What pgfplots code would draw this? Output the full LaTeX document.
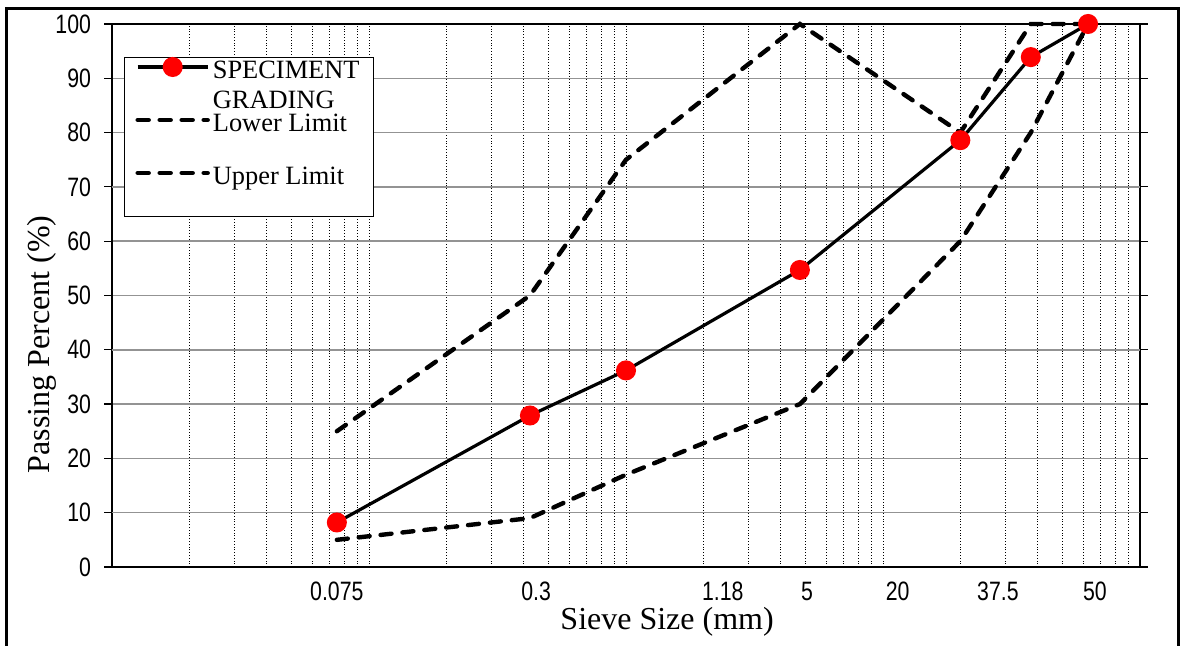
\documentclass[border=0pt]{standalone}
\usepackage{fontspec}
\setmainfont{Liberation Serif}
\newfontfamily\narrowsans[FakeStretch=0.8]{Liberation Sans}
\usepackage{pgfplots}
\pgfplotsset{compat=1.18}
\usetikzlibrary{calc}
\begin{document}
\begin{tikzpicture}
\begin{axis}[
  name=ax,
  scale only axis,
  width=514pt, height=271.5pt,
  xmode=log,
  xmin=0.01, xmax=100,
  ymin=0, ymax=100,
  clip=false,
  xtick={0.01,0.1,1,10,100},
  xticklabels={},
  ytick={0,10,...,100},
  extra x ticks={0.075,0.447,2.38,5.06,11.4,28.0,66.8},
  extra x tick labels={0.075,0.3,1.18,5,20,37.5,50},
  extra x tick style={grid=none, major tick length=0pt},
  extra y ticks={10,40,70},
  extra y tick labels={},
  extra y tick style={major grid style={black, line width=0.5pt}, tick style={draw=none}},
  xtick style={draw=none},
  minor tick length=0pt,
  tick align=outside,
  major tick length=4pt,
  ytick style={black, line width=0.6pt},
  xmajorgrids, xminorgrids, ymajorgrids,
  major x grid style={densely dotted, black, line width=0.45pt},
  minor x grid style={densely dotted, black, line width=0.45pt},
  major y grid style={gray!85, line width=0.75pt},
  axis line style={black, line width=1pt},
  /pgf/number format/assume math mode=true,
  ticklabel style={font=\narrowsans\fontsize{13.3}{14}\selectfont},
  yticklabel style={xshift=-3pt},
  xticklabel style={yshift=-4pt},
  xlabel={Sieve Size (mm)},
  ylabel={Passing Percent (\%)},
  label style={font=\fontsize{16}{18}\selectfont},
  xlabel style={at={(axis description cs:0.54,0)}, anchor=base, yshift=-31.5pt},
  ylabel style={at={(axis description cs:-0.068,0.41)}, anchor=center},
  legend style={at={(axis description cs:0,1)}, anchor=north west, xshift=6pt, yshift=-16.5pt,
    draw=black, line width=0.5pt, inner xsep=5.5pt, inner ysep=0pt, row sep=0pt,
    font=\fontsize{13.2}{15}\selectfont,
    nodes={text height=10.5pt, text depth=16pt, inner xsep=1.5pt, inner ysep=0pt}},
  legend cell align=left,
  legend image code/.code={\draw[yshift=8.5pt,mark repeat=2,mark phase=2,#1] plot coordinates {(0pt,0pt) (17.5pt,0pt) (35pt,0pt)};},
]
\addplot[black, line width=1.6pt, mark=*, mark size=4.2pt, mark options={fill=red, draw=red, solid}]
  coordinates {(0.075,8.2) (0.423,27.9) (1.0,36.2) (4.75,54.7) (20.0,78.6) (37.6,93.9) (62.8,100)};
\addlegendentry{\begin{tabular}[t]{@{}l@{}}SPECIMENT\\GRADING\end{tabular}}
\addplot[black, line width=2.2pt, line cap=round, dash pattern=on 5.5pt off 5.5pt]
  coordinates {(0.075,5) (0.423,9) (1.0,17) (4.75,30) (20.0,60) (37.6,80) (62.8,100)};
\addlegendentry{Lower Limit}
\addplot[black, line width=2.2pt, line cap=round, dash pattern=on 5.5pt off 5.5pt]
  coordinates {(0.075,25) (0.423,50) (1.0,75) (4.75,100) (20.0,80) (37.6,100) (62.8,100)};
\addlegendentry{Upper Limit}
\end{axis}
\pgfresetboundingbox
\path[use as bounding box] ($(ax.south west)+(-56pt,-39.5pt)$) rectangle ($(ax.north east)+(20pt,12pt)$);
\draw[line width=1.5pt] ($(ax.south west)+(-52.5pt,-42pt)$) rectangle ($(ax.north east)+(19pt,7.5pt)$);
\end{tikzpicture}
\end{document}
